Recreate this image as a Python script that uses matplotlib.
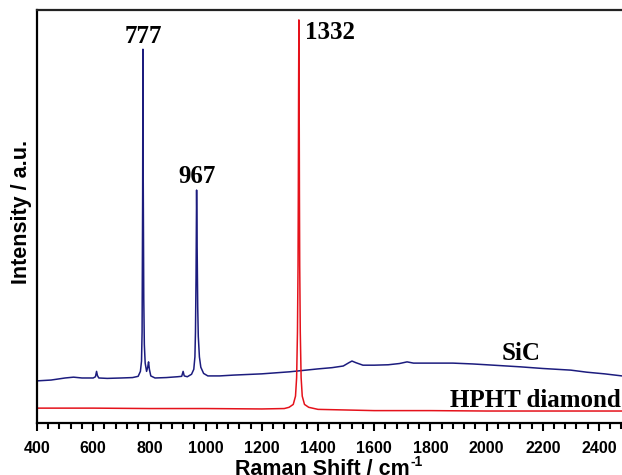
import numpy as np
import matplotlib
matplotlib.use('Agg')
import matplotlib.pyplot as plt
from matplotlib.ticker import MultipleLocator

## Raman spectra (shift in cm-1, intensity in a.u.)
sic_shift = [400, 450, 500, 530, 560, 600, 608, 612, 615, 620, 650, 700, 740, 760,
             768, 772, 774, 776, 777, 778, 780, 782, 785, 790, 794, 797, 800, 805,
             820, 860, 900, 915, 920, 924, 935, 950, 958, 962, 964, 966, 968, 970,
             972, 974, 978, 983, 993, 1008, 1050, 1100, 1200, 1300, 1400, 1450, 1490,
             1510, 1521, 1535, 1560, 1600, 1650, 1690, 1717, 1740, 1800, 1880, 1950,
             2000, 2120, 2200, 2300, 2357, 2420, 2482]
sic_int = [10.2, 10.4, 10.9, 11.1, 10.9, 10.9, 11.2, 12.5, 11.5, 10.9, 10.8, 10.9, 11.0, 11.3,
           12.5, 15.0, 22.0, 55.0, 90.5, 60.0, 30.0, 19.0, 14.5, 12.5, 13.5, 14.8, 13.0, 11.4,
           10.9, 11.0, 11.2, 11.3, 12.5, 11.4, 11.2, 11.8, 13.0, 16.0, 22.0, 35.0, 56.4, 42.0,
           28.0, 21.0, 16.0, 13.5, 12.0, 11.4, 11.4, 11.6, 11.9, 12.4, 13.1, 13.4, 13.8,
           14.6, 15.0, 14.6, 14.0, 14.0, 14.1, 14.4, 14.8, 14.5, 14.5, 14.5, 14.3,
           14.1, 13.6, 13.2, 12.8, 12.3, 11.9, 11.4]

dia_shift = [400, 600, 800, 1000, 1200, 1280, 1297, 1312, 1320, 1324, 1327, 1329, 1330,
             1331, 1332, 1333, 1334, 1335, 1337, 1340, 1344, 1352, 1367, 1400, 1600,
             1800, 2000, 2200, 2482]
dia_int = [3.6, 3.6, 3.5, 3.5, 3.4, 3.5, 3.8, 4.5, 6.5, 11.0, 22.0, 38.0, 55.0,
           80.0, 97.6, 80.0, 55.0, 38.0, 22.0, 11.0, 6.5, 4.5, 3.8, 3.3, 3.0,
           3.0, 2.9, 2.9, 2.9]

peak_labels = ['777', '967', '1332']
peak_pos = [777, 969, 1354]
peak_y = [92.0, 58.1, 93.0]
peak_ha = ['center', 'center', 'left']

fig = plt.figure(figsize=(6.22, 4.75), dpi=100)
ax = fig.add_axes([37/622, 1 - 423/475, 1 - 37/622, 413/475])

ax.plot(sic_shift, sic_int, color='#1c1c7e', lw=1.1)
ax.plot(dia_shift, dia_int, color='#e5121b', lw=1.1)

serif = dict(family='Liberation Serif', weight='bold', size=18, color='black')
for lab, x, y, ha in zip(peak_labels, peak_pos, peak_y, peak_ha):
    ax.text(x, y, lab, ha=ha, va='baseline', **serif)
ax.text(2122, 15.25, 'SiC', ha='center', va='baseline', **serif)
ax.text(1870, 3.9, 'HPHT diamond', ha='left', va='baseline', **serif)

ax.set_xlim(400, 2482)
ax.set_ylim(0, 100)
ax.xaxis.set_major_locator(MultipleLocator(200))
ax.xaxis.set_minor_locator(MultipleLocator(40))
ax.tick_params(axis='x', which='major', direction='out', length=6, width=1.5, pad=7)
ax.tick_params(axis='x', which='minor', direction='out', length=4, width=1.5)
ax.set_yticks([])
for lab in ax.get_xticklabels():
    lab.set_fontfamily('Liberation Sans')
    lab.set_fontweight('bold')
    lab.set_fontsize(11.5)

ax.spines['right'].set_visible(False)
for s in ['left', 'bottom', 'top']:
    ax.spines[s].set_linewidth(1.6)
ax.spines['top'].set_color('#222222')

# x label with a hyphen superscript, like the original
sans = dict(family='Liberation Sans', weight='bold')
xl = fig.text(322/622, 1 - 475/475, 'Raman Shift / cm', ha='center', va='baseline', size=15.5, **sans)
fig.canvas.draw()
bb = xl.get_window_extent()
fig.text(bb.x1 / 622 + 0.002, 1 - 466/475, '-1', ha='left', va='baseline', size=10, **sans)

fig.text(22/622, 1 - 212/475, 'Intensity / a.u.', rotation=90, ha='center', va='center',
         size=15.5, **sans)

fig.savefig('out.png', dpi=100)
